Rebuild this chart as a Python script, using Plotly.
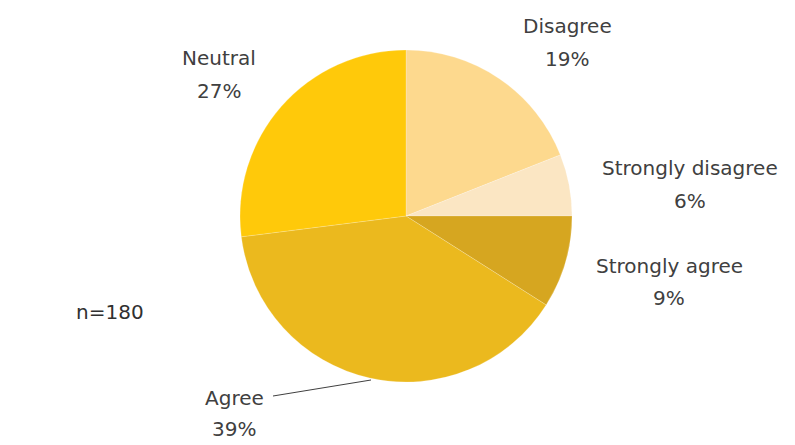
import plotly.graph_objects as go

categories = ["Disagree", "Strongly disagree", "Strongly agree", "Agree", "Neutral"]
percentages = [19, 6, 9, 39, 27]
colors = ["#FDD98E", "#FBE6C3", "#D6A620", "#EBB91E", "#FFC90A"]
n_label = "n=180"

# The page body has an 8px margin; the figure fills the rest of the window.
OFF = 8
W, H = 795 - OFF, 445 - OFF
cx, cy, r = 406 - OFF, 216 - OFF, 166


def px(x):
    return (x - OFF) / W


def py(y):
    return 1 - (y - OFF) / H


fig = go.Figure(go.Pie(
    labels=categories,
    values=percentages,
    sort=False,
    direction="clockwise",
    rotation=0,
    marker=dict(colors=colors, line=dict(color="rgba(255,255,255,0.4)", width=0.5)),
    textinfo="none",
    hoverinfo="label+percent",
    domain=dict(x=[(cx - r) / W, (cx + r) / W], y=[(H - cy - r) / H, (H - cy + r) / H]),
    showlegend=False,
))

# (name x, name y, pct x, pct y) in reference pixels
label_pos = {
    "Disagree": (567, 26, 567, 59),
    "Strongly disagree": (690, 168, 690, 201),
    "Strongly agree": (669, 266, 669, 298),
    "Agree": (234, 398, 234, 429),
    "Neutral": (219, 58, 219, 91),
}
font = dict(family="'DejaVu Sans', sans-serif", size=20, color="#404040")
anns = []
for cat, pct in zip(categories, percentages):
    nx, ny, qx, qy = label_pos[cat]
    anns.append(dict(x=px(nx), y=py(ny), xref="paper", yref="paper",
                     text=cat, showarrow=False, font=font,
                     xanchor="center", yanchor="middle"))
    anns.append(dict(x=px(qx), y=py(qy), xref="paper", yref="paper",
                     text=f"{pct}%", showarrow=False, font=font,
                     xanchor="center", yanchor="middle"))
anns.append(dict(x=px(110), y=py(312), xref="paper", yref="paper", text=n_label,
                 showarrow=False, font=dict(family="'DejaVu Sans', sans-serif", size=20, color="#303030"),
                 xanchor="center", yanchor="middle"))

fig.update_layout(
    width=W, height=H,
    margin=dict(l=0, r=0, t=0, b=0),
    paper_bgcolor="white", plot_bgcolor="white",
    annotations=anns,
    shapes=[dict(type="line", xref="paper", yref="paper",
                 x0=px(273), y0=py(396), x1=px(371), y1=py(380),
                 line=dict(color="#404040", width=1))],
)

fig.write_html("out.html")
